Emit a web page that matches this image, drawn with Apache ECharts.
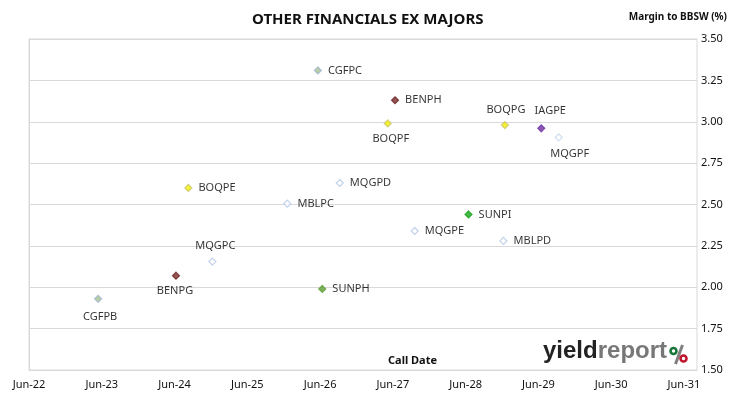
<!DOCTYPE html>
<html><head><meta charset="utf-8">
<script src="https://cdn.jsdelivr.net/npm/echarts@6/dist/echarts.min.js"></script>
<style>html,body{margin:0;padding:0;background:#fff}#c{width:730px;height:399px}</style>
</head><body><div id="c"></div>
<script>
// Data (call date expressed as years after Jun-22; margin in %)
var bondNames = ['CGFPB','BENPG','MQGPC','BOQPE','MBLPC','MQGPD','CGFPC','SUNPH','BENPH','BOQPF','MQGPE','SUNPI','BOQPG','IAGPE','MQGPF','MBLPD'];
var callYears = [0.95, 2.02, 2.52, 2.19, 3.55, 4.27, 3.97, 4.03, 5.03, 4.93, 5.30, 6.04, 6.54, 7.04, 7.28, 6.52];
var margins   = [1.93, 2.07, 2.155, 2.60, 2.505, 2.63, 3.31, 1.99, 3.13, 2.99, 2.34, 2.44, 2.98, 2.96, 2.905, 2.28];
var xTickLabels = ['Jun-22','Jun-23','Jun-24','Jun-25','Jun-26','Jun-27','Jun-28','Jun-29','Jun-30','Jun-31'];

// Styles (kept separate from data)
var styleByName = {
  CGFPB:{fill:'#a9c28f',border:'#9db4cf'}, CGFPC:{fill:'#a9c28f',border:'#9db4cf'},
  BENPG:{fill:'#7b2b2b',border:'#6a2222'}, BENPH:{fill:'#7b2b2b',border:'#6a2222'},
  MQGPC:{fill:'#ffffff',border:'#b3c5e6'}, MQGPD:{fill:'#ffffff',border:'#b3c5e6'},
  MQGPE:{fill:'#ffffff',border:'#b3c5e6'}, MQGPF:{fill:'#ffffff',border:'#c8d6ee'},
  MBLPC:{fill:'#ffffff',border:'#b3c5e6'}, MBLPD:{fill:'#ffffff',border:'#b3c5e6'},
  BOQPE:{fill:'#f2ee00',border:'#c9c36a'}, BOQPF:{fill:'#f2ee00',border:'#c9c36a'}, BOQPG:{fill:'#f2ee00',border:'#c9c36a'},
  SUNPH:{fill:'#5c9f36',border:'#5c9f36'}, SUNPI:{fill:'#18a418',border:'#18a418'},
  IAGPE:{fill:'#7030a0',border:'#7030a0'}
};
var labelPlace = {
  CGFPB:{position:'bottom',offset:[2,2]}, BENPG:{position:'bottom',offset:[-1,0]},
  MQGPC:{position:'top',offset:[3,0]}, BOQPF:{position:'bottom',offset:[3,0]},
  BOQPG:{position:'top',offset:[1,0]}, IAGPE:{position:'top',offset:[9,-2]},
  MQGPF:{position:'bottom',offset:[11,1]}
};

var points = bondNames.map(function(n,i){
  var s = styleByName[n], lp = labelPlace[n] || {position:'right',offset:[0,0]};
  return {
    name:n, value:[callYears[i], margins[i]],
    itemStyle:{color:s.fill,borderColor:s.border,borderWidth:1.2},
    label:{position:lp.position, offset:lp.offset}
  };
});

var chart = echarts.init(document.getElementById('c'), null, {renderer:'canvas'});
var font = 'Noto Sans';
chart.setOption({
  animation:false,
  backgroundColor:'#ffffff',
  title:{text:'OTHER FINANCIALS EX MAJORS', left:247, top:7,
    textStyle:{fontFamily:font,fontSize:15,fontWeight:'bold',color:'#111'}},
  grid:{left:29,right:33,top:39,bottom:29,containLabel:false,outerBoundsMode:'none',
    show:true,borderColor:'#d9d9d9',borderWidth:1},
  xAxis:{type:'value',min:0,max:9.18,interval:1,
    axisLine:{show:true,lineStyle:{color:'#d9d9d9'}},
    axisTick:{show:false}, splitLine:{show:false},
    axisLabel:{margin:9,color:'#111',fontFamily:font,fontSize:11,
      formatter:function(v){ var k=Math.round(v); return Math.abs(v-k)<1e-6 && xTickLabels[k] ? xTickLabels[k] : ''; }}
  },
  yAxis:{type:'value',position:'right',min:1.5,max:3.5,interval:0.25,
    axisLine:{show:true,lineStyle:{color:'#d9d9d9'}},
    axisTick:{show:true,inside:false,length:5,lineStyle:{color:'#d9d9d9'}},
    splitLine:{show:true,lineStyle:{color:'#d9d9d9',width:1}},
    axisLabel:{margin:4,color:'#111',fontFamily:font,fontSize:11,
      formatter:function(v){return v.toFixed(2);}}
  },
  series:[{
    type:'scatter', symbol:'diamond', symbolSize:7,
    data:points,
    label:{show:true,formatter:'{b}',distance:6,color:'#000',fontFamily:font,fontSize:11}
  }],
  graphic:[
    {type:'text',right:3,top:12,style:{text:'Margin to BBSW (%)',font:'bold 10px "Noto Sans"',fill:'#111'}},
    {type:'text',left:388,top:355,style:{text:'Call Date',font:'bold 11px "Noto Sans"',fill:'#111'}},
    {type:'text',left:543,top:339,style:{text:'{a|yield}{b|report}',
      rich:{a:{font:'bold 24px "Liberation Sans"',fill:'#222'},b:{font:'bold 24px "Liberation Sans"',fill:'#777'}}}},
    {type:'line',shape:{x1:682.5,y1:345,x2:675.5,y2:364},style:{stroke:'#808080',lineWidth:3}},
    {type:'circle',shape:{cx:673.5,cy:351,r:3},style:{fill:'none',stroke:'#17773a',lineWidth:2.6}},
    {type:'circle',shape:{cx:683.5,cy:358.5,r:3},style:{fill:'none',stroke:'#c0172d',lineWidth:2.6}}
  ]
});
</script></body></html>
